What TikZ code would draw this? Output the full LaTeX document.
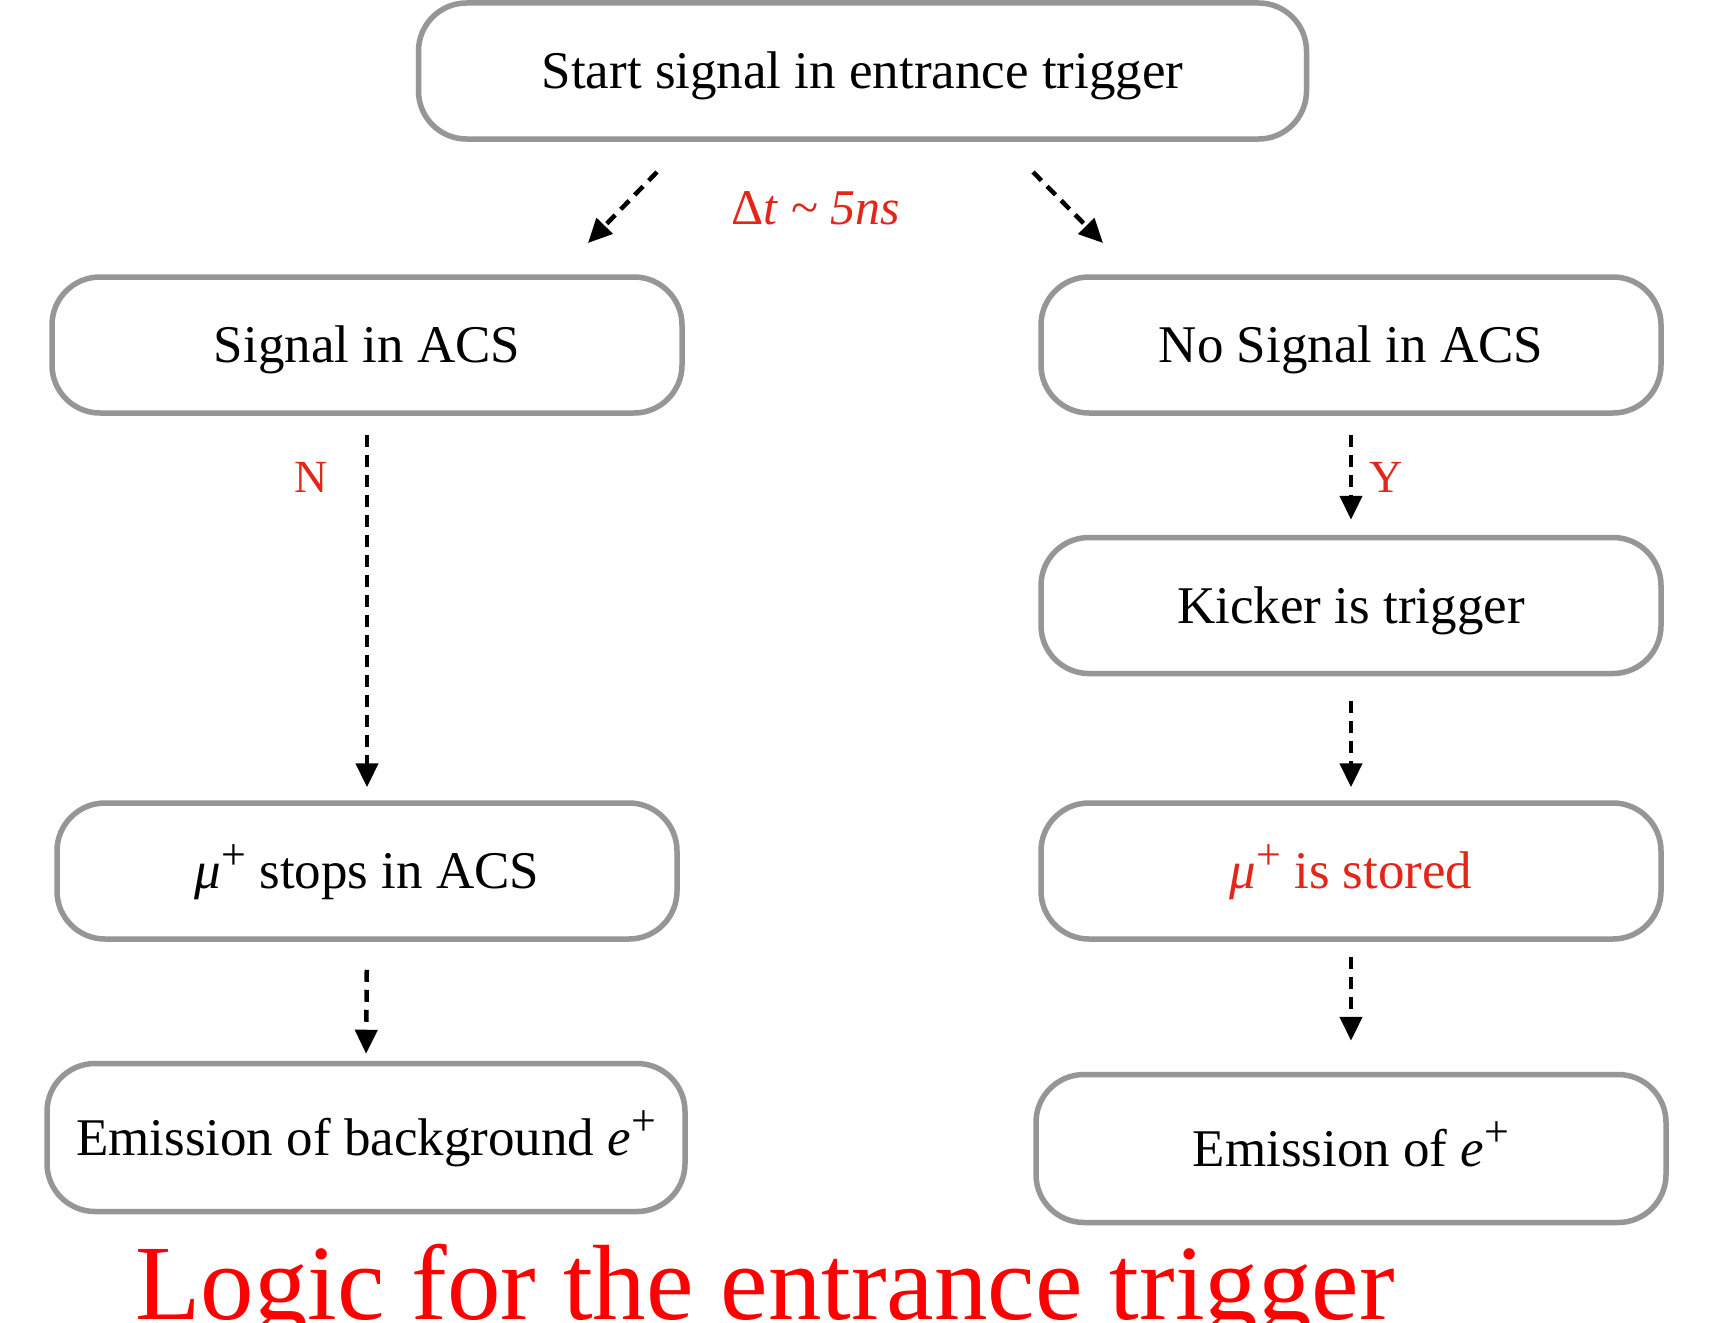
\documentclass[tikz,border=0pt]{standalone}
\usepackage{fontspec}
\usepackage{graphicx}
\setmainfont{Liberation Serif}
\usetikzlibrary{arrows.meta}
\definecolor{lblred}{RGB}{226,38,26}
\definecolor{boxgray}{RGB}{150,150,150}
\newcommand{\supplus}{\raisebox{0.36em}{\fontsize{44pt}{46pt}\selectfont +}}
\begin{document}
\begin{tikzpicture}[x=1pt,y=-1pt,
  box/.style={draw=boxgray, line width=5.5pt, rounded corners=48pt, minimum width=620pt, minimum height=136pt, inner sep=0pt, text height=35pt, text depth=0pt, font=\fontsize{53pt}{60pt}\selectfont},
  flow/.style={dash pattern=on 12pt off 8pt, line width=4.5pt, -{Triangle[length=24pt,width=22pt]}},
  lbl/.style={text=lblred, font=\fontsize{46pt}{50pt}\selectfont}]
\useasboundingbox[fill=white] (0,0) rectangle (1718,1322);

\node[box, minimum width=888pt] (top) at (862.5,71) {Start signal in entrance trigger};
\node[box, minimum width=630pt] (sig) at (367,345) {Signal in ACS};
\node[box] (nosig) at (1351,345) {No Signal in ACS};
\node[box] (kick) at (1351,605.5) {Kicker is trigger};
\node[box] (stops) at (367,871) {\textit{μ}\supplus\ stops in ACS};
\node[box, text=lblred] (stored) at (1351,871) {\textit{μ}\supplus\ is stored};
\node[box, minimum width=638pt, minimum height=148pt] (emb) at (366,1137.5) {Emission of background \textit{e}\supplus};
\node[box, minimum width=630pt, minimum height=148pt] (em) at (1351,1148.5) {Emission of \textit{e}\supplus};

\coordinate (dl1) at (657,172);
\coordinate (dl2) at (588,243);
\coordinate (dr1) at (1033,172);
\coordinate (dr2) at (1103,243);
\draw[flow] (dl1) -- (dl2);
\draw[flow] (dr1) -- (dr2);
\node[text=lblred, font=\fontsize{50pt}{54pt}\selectfont] (dt) at (816,208) {{\upshape Δ}\textit{t} \textasciitilde{} \textit{5ns}};

\draw[flow, shorten <=19pt, shorten >=13pt] (sig.south) -- (stops.north);
\node[lbl] (N) at (311,477) {N};
\draw[flow, shorten <=19pt, shorten >=15pt] (nosig.south) -- (kick.north);
\node[lbl] (Y) at (1386,477) {Y};
\draw[flow, shorten <=25pt, shorten >=13pt] (kick.south) -- (stored.north);
\draw[flow, shorten <=28pt, shorten >=7pt] (stops.south) -- (emb.north);
\draw[flow, shorten <=15pt, shorten >=31pt] (stored.south) -- (em.north);

\node[anchor=base, text=red, font=\fontsize{107pt}{110pt}\selectfont] (title) at (765,1319) {Logic for the entrance trigger};
\end{tikzpicture}
\end{document}
